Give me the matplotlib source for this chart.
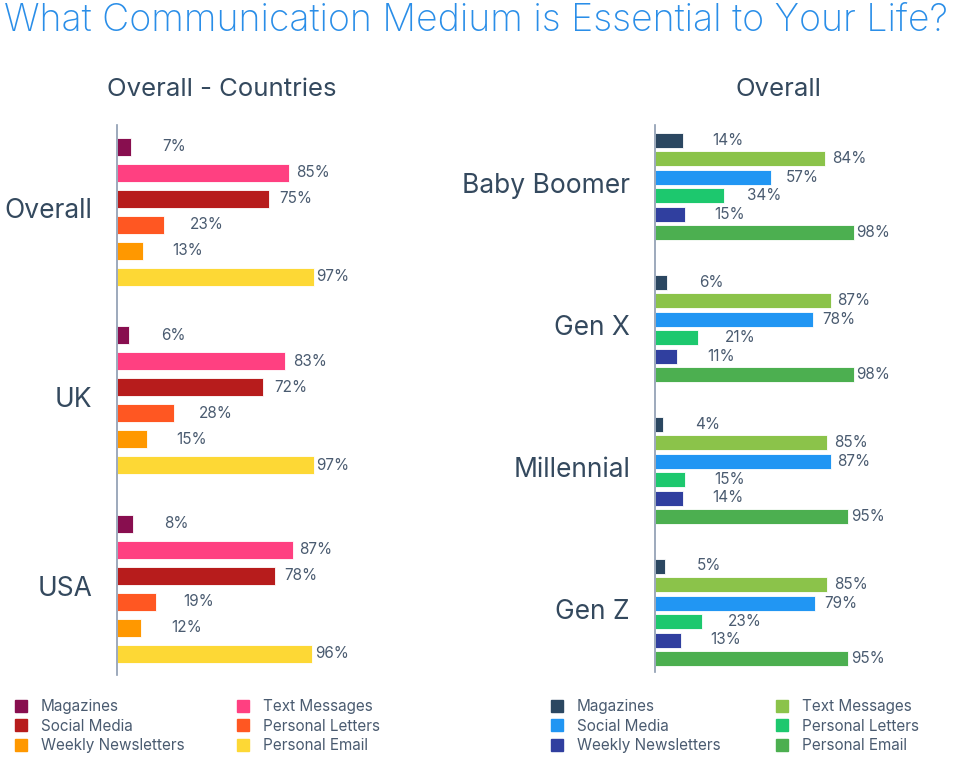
import matplotlib
matplotlib.use("Agg")
import matplotlib.pyplot as plt
from matplotlib.lines import Line2D

plt.rcParams['font.family'] = ['Inter', 'DejaVu Sans']

series = ["Magazines", "Text Messages", "Social Media", "Personal Letters",
          "Weekly Newsletters", "Personal Email"]

left_groups = ["Overall", "UK", "USA"]
left_overall = [7, 85, 75, 23, 13, 97]
left_uk = [6, 83, 72, 28, 15, 97]
left_usa = [8, 87, 78, 19, 12, 96]
left_values = [left_overall, left_uk, left_usa]
left_colors = ["#880e4f", "#ff4081", "#b71c1c", "#ff5722", "#ff9800", "#fdd835"]

right_groups = ["Baby Boomer", "Gen X", "Millennial", "Gen Z"]
right_bb = [14, 84, 57, 34, 15, 98]
right_genx = [6, 87, 78, 21, 11, 98]
right_mill = [4, 85, 87, 15, 14, 95]
right_genz = [5, 85, 79, 23, 13, 95]
right_values = [right_bb, right_genx, right_mill, right_genz]
right_colors = ["#2b4761", "#8bc34a", "#2196f3", "#1dc86e", "#303f9f", "#4caf50"]

W, H = 960, 781
fig = plt.figure(figsize=(W / 100, H / 100), dpi=100)

TEXT = "#34495e"
LABEL = "#4a5b70"

def px_axes(x0, y0, w, h):
    return fig.add_axes([x0 / W, 1 - (y0 + h) / H, w / W, h / H])

def draw_panel(ax, groups, values, colors, slot_px, stride_px, first_px, height_px, bar_h_px, label_fs):
    n = len(series)
    total = height_px / slot_px
    for g, (name, vals) in enumerate(zip(groups, values)):
        base = (first_px + g * stride_px) / slot_px
        ys = [base + i for i in range(n)]
        ax.barh(ys, vals, height=bar_h_px / slot_px, color=colors, edgecolor="white", linewidth=0.6)
        for y, v in zip(ys, vals):
            ax.text(v + 16.5 - 0.155 * v, y, f"{v}%", va="center", ha="left",
                    fontsize=11, color=LABEL, clip_on=False)
        ax.text(-12.3, base + (n - 1) / 2, name, ha="right", va="center",
                fontsize=label_fs, color=TEXT, clip_on=False)
    ax.set_ylim(total, 0)
    ax.set_xlim(0, 110)
    for s in ["top", "right", "bottom"]:
        ax.spines[s].set_visible(False)
    ax.spines["left"].set_color("#8c9bb0")
    ax.spines["left"].set_linewidth(1.2)
    ax.set_xticks([])
    ax.set_yticks([])
    ax.patch.set_alpha(0)

axL = px_axes(117, 125, 223, 550)
draw_panel(axL, left_groups, left_values, left_colors, 26, 188.5, 21.5, 550, 18, 19)

axR = px_axes(655, 125, 223, 547)
draw_panel(axR, right_groups, right_values, right_colors, 18.5, 142, 15, 547, 15, 19)

fig.text(4 / W, 1 - 21 / H, "What Communication Medium is Essential to Your Life?",
         fontsize=27, color="#2a8ee8", ha="left", va="center", fontweight="light")
fig.text(222 / W, 1 - 89 / H, "Overall - Countries", fontsize=18.5, color=TEXT,
         ha="center", va="center")
fig.text(778 / W, 1 - 89 / H, "Overall", fontsize=18.5, color=TEXT,
         ha="center", va="center")

order = [0, 2, 4, 1, 3, 5]

def add_legend(colors, x0, colsp):
    handles = [Line2D([], [], marker="s", linestyle="none", markersize=8.5,
                      markerfacecolor=colors[i], markeredgecolor=colors[i]) for i in order]
    labels = [series[i] for i in order]
    fig.legend(handles, labels, loc="upper left", bbox_to_anchor=(x0 / W, 1 - 699 / H),
               ncol=2, frameon=False, fontsize=11, labelcolor=LABEL,
               handlelength=0.8, handletextpad=0.9, columnspacing=colsp,
               labelspacing=0.3, borderaxespad=0, borderpad=0)

add_legend(left_colors, 15, 3.45)
add_legend(right_colors, 551, 3.6)

fig.savefig("out.png", dpi=100)
